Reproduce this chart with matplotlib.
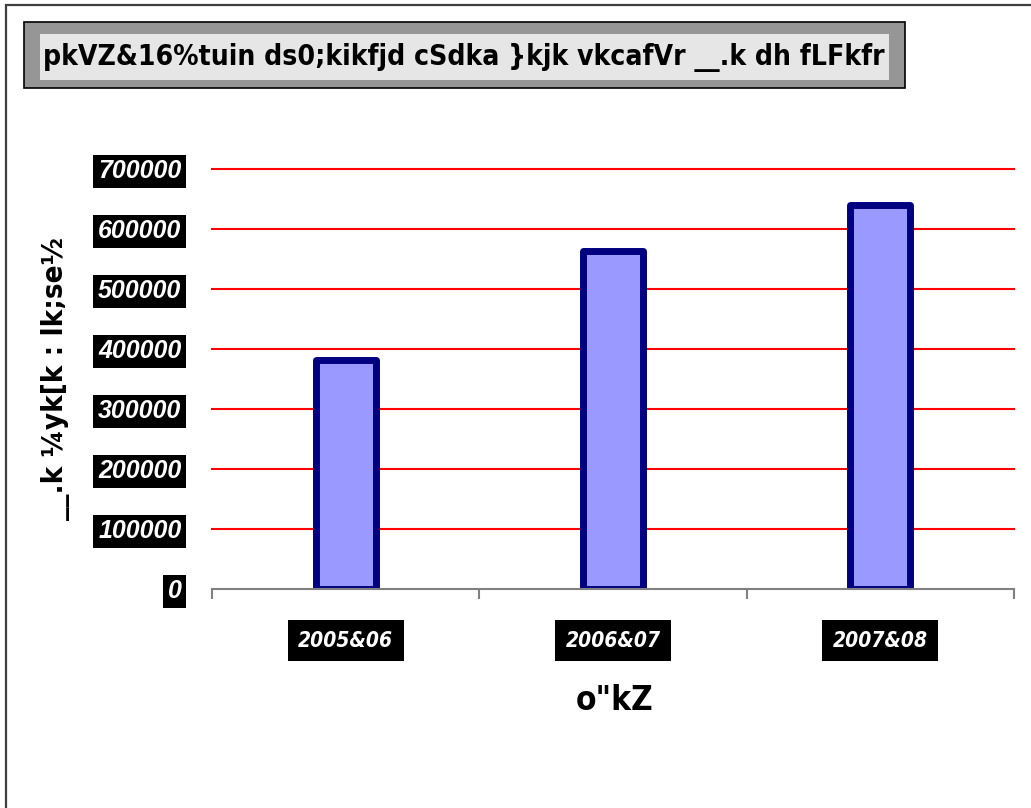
import matplotlib
matplotlib.use("Agg")
import matplotlib.pyplot as plt
from matplotlib import font_manager
from matplotlib.font_manager import FontProperties
from matplotlib.patches import Rectangle
from matplotlib.ticker import FixedLocator

categories = ["2005&06", "2006&07", "2007&08"]
values = [381000, 564000, 640000]
yticks = [0, 100000, 200000, 300000, 400000, 500000, 600000, 700000]
title = "pkVZ&16%tuin ds0;kikfjd cSdka }kjk vkcafVr __.k dh fLFkfr"
xlabel = 'o"kZ'
ylabel = "__.k ¼yk[k : lk;se½"

avail = {f.name for f in font_manager.fontManager.ttflist}
cond_path = font_manager.findfont(FontProperties(family="DejaVu Sans", stretch="condensed",
                                                  weight="bold"), fallback_to_default=True)
HAS_COND = "ondensed" in cond_path
if "Liberation Sans Narrow" in avail:
    NARROW = dict(family="Liberation Sans Narrow")
    nscale = 1.0
elif HAS_COND:
    NARROW = dict(family="DejaVu Sans", stretch="condensed")
    nscale = 0.92
else:
    NARROW = dict(family="Liberation Sans")
    nscale = 0.82
ARIAL = "Liberation Sans" if "Liberation Sans" in avail else "DejaVu Sans"

W, H = 1031, 808
fig = plt.figure(figsize=(W / 100, H / 100), dpi=100)

def fx(px):
    return px / W
def fy(py):
    return 1 - py / H

# outer chart border (extends off the image right/bottom)
fig.patches.append(Rectangle((fx(6), fy(900)), fx(1100) - fx(6), fy(5) - fy(900),
                             transform=fig.transFigure, fill=False,
                             edgecolor="#404040", linewidth=1.6))
# title box
fig.patches.append(Rectangle((fx(24), fy(88)), fx(905) - fx(24), fy(22) - fy(88),
                             transform=fig.transFigure, facecolor="#969696",
                             edgecolor="#000000", linewidth=1.2))
fig.patches.append(Rectangle((fx(40), fy(80)), fx(889) - fx(40), fy(34) - fy(80),
                             transform=fig.transFigure, facecolor="#e6e6e6",
                             edgecolor="none"))
fig.text(fx(464), fy(57), title, ha="center", va="center", fontsize=22.0 * nscale,
         fontweight="bold", color="black", **NARROW)

ax = fig.add_axes([fx(212), fy(589), fx(1014) - fx(212), fy(169) - fy(589)])
x = list(range(len(categories)))
bars = ax.bar(x, values, width=0.225, color="#9999ff", edgecolor="#000080",
              linewidth=5, zorder=3)
for b in bars:
    b.set_joinstyle("round")

ax.set_xlim(-0.5, len(categories) - 0.5)
ax.set_ylim(0, 700000)
ax.set_yticks(yticks)
ax.yaxis.grid(True, color="#ff0000", linewidth=1.5, zorder=1)
for gl in ax.get_ygridlines():
    gl.set_clip_on(False)
ax.get_ygridlines()[0].set_visible(False)
ax.set_axisbelow(True)
for s in ["top", "right", "left"]:
    ax.spines[s].set_visible(False)
ax.spines["bottom"].set_color("#808080")
ax.spines["bottom"].set_linewidth(1.5)
ax.spines["bottom"].set_zorder(4)
ax.tick_params(axis="y", length=0, pad=22)
ax.set_yticklabels([str(v) for v in yticks])
for t in ax.get_yticklabels():
    t.set_fontfamily(ARIAL)
    t.set_fontsize(18)
    t.set_fontweight("bold")
    t.set_fontstyle("italic")
    t.set_color("white")
    t.set_bbox(dict(facecolor="black", edgecolor="none", pad=3.5))

ax.set_xticks(x)
ax.set_xticklabels(categories)
ax.xaxis.set_minor_locator(FixedLocator([-0.5, 0.5, 1.5, 2.5]))
ax.tick_params(axis="x", which="major", length=0, pad=30)
ax.tick_params(axis="x", which="minor", length=7, width=1.5, color="#808080")
for t in ax.get_xticklabels():
    t.set_fontfamily(NARROW["family"])
    if "stretch" in NARROW:
        t.set_fontstretch(NARROW["stretch"])
        t.set_fontstyle("oblique")
    else:
        t.set_fontstyle("italic")
    t.set_fontsize(15)
    t.set_fontweight("bold")
    t.set_color("white")
    t.set_bbox(dict(facecolor="black", edgecolor="none", pad=7.5))

fig.text(fx(615), fy(701), xlabel, ha="center", va="center", fontsize=26 * nscale,
         fontweight="bold", **NARROW)
fig.text(fx(55), fy(378), ylabel, ha="center", va="center", rotation=90,
         fontsize=23 * nscale, fontweight="bold", **NARROW)

fig.savefig("out.png", dpi=100)
